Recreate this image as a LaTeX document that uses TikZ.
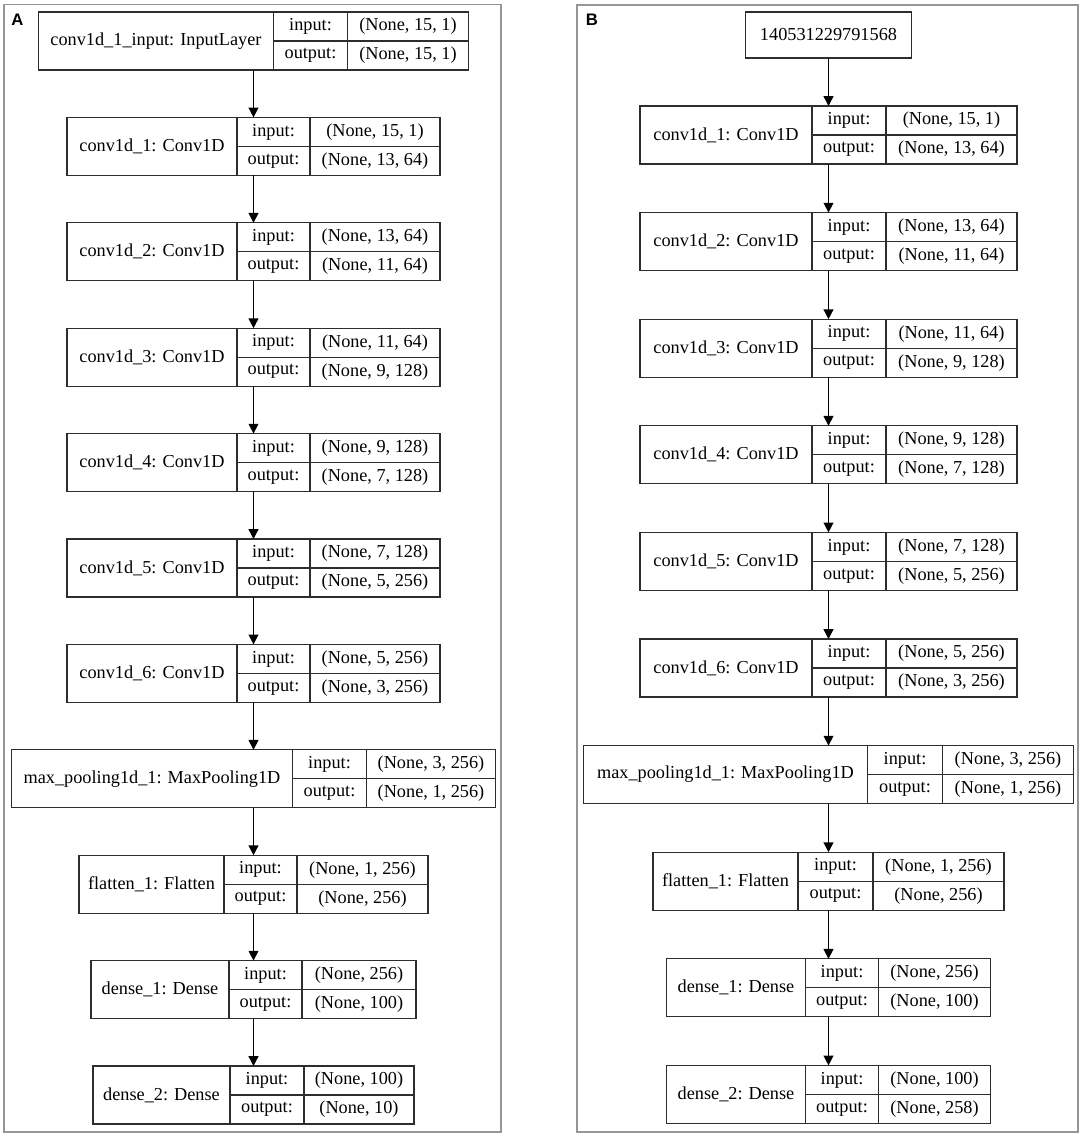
\documentclass[tikz,border=0pt]{standalone}
\usepackage{fontspec}
\setmainfont{Liberation Serif}
\newfontfamily\panelfont{Liberation Sans}
\usetikzlibrary{arrows.meta}

\definecolor{framegray}{RGB}{150,150,150}
\definecolor{celldark}{RGB}{45,45,45}

\tikzset{
    cell/.style={draw=celldark, line width=0.7pt, inner sep=0pt, outer sep=0pt, minimum height=0.58cm, font=\fontsize{10.4}{12}\selectfont},
    panel/.style={draw=framegray, line width=0.9pt},
    arr/.style={line width=0.8pt, -{Triangle[length=5.6pt, width=5.6pt]}},
}

% one keras layer: id, x, y, name width, label width, value width, name, input, output (widths in px)
\newcommand{\layer}[9]{
    \node[outer sep=0pt, inner sep=0pt, minimum width={(#4+#5+#6)*0.02cm}, minimum height=1.16cm] (#1) at (#2, #3) {};
    \node[cell, anchor=north west, minimum width={#4*0.02cm}, minimum height=1.16cm] (#1n) at (#1.north west) {#7};
    \node[cell, anchor=north west, minimum width={#5*0.02cm}] (#1il) at (#1n.north east) {input:};
    \node[cell, anchor=north west, minimum width={#5*0.02cm}] (#1ol) at (#1il.south west) {output:};
    \node[cell, anchor=north west, minimum width={#6*0.02cm}] (#1iv) at (#1il.north east) {#8};
    \node[cell, anchor=north west, minimum width={#6*0.02cm}] (#1ov) at (#1iv.south west) {#9};
}

\begin{document}
\begin{tikzpicture}[x=0.02cm, y=-0.02cm]
    \useasboundingbox (0, 0) rectangle (1084, 1137);

    % panels
    \draw[panel] (4, 4.7) rectangle (501, 1132);
    \draw[panel] (577, 5) rectangle (1078, 1132);
    \node[font=\panelfont\bfseries\fontsize{9.5}{11}\selectfont] (labA) at (17.5, 20) {A};
    \node[font=\panelfont\bfseries\fontsize{9.5}{11}\selectfont] (labB) at (592, 20) {B};

    % model A
    \layer{a0}{253.5}{41}{235}{74}{121}{conv1d\_1\_input: InputLayer}{(None, 15, 1)}{(None, 15, 1)}
    \layer{a1}{253.5}{146.4}{170}{73}{130}{conv1d\_1: Conv1D}{(None, 15, 1)}{(None, 13, 64)}
    \layer{a2}{253.5}{251.8}{170}{73}{130}{conv1d\_2: Conv1D}{(None, 13, 64)}{(None, 11, 64)}
    \layer{a3}{253.5}{357.2}{170}{73}{130}{conv1d\_3: Conv1D}{(None, 11, 64)}{(None, 9, 128)}
    \layer{a4}{253.5}{462.6}{170}{73}{130}{conv1d\_4: Conv1D}{(None, 9, 128)}{(None, 7, 128)}
    \layer{a5}{253.5}{568}{170}{73}{130}{conv1d\_5: Conv1D}{(None, 7, 128)}{(None, 5, 256)}
    \layer{a6}{253.5}{673.4}{170}{73}{130}{conv1d\_6: Conv1D}{(None, 5, 256)}{(None, 3, 256)}
    \layer{a7}{253.5}{778.8}{281}{74}{129}{max\_pooling1d\_1: MaxPooling1D}{(None, 3, 256)}{(None, 1, 256)}
    \layer{a8}{253.5}{884.2}{145}{73}{131}{flatten\_1: Flatten}{(None, 1, 256)}{(None, 256)}
    \layer{a9}{253.5}{989.6}{138}{73}{114}{dense\_1: Dense}{(None, 256)}{(None, 100)}
    \layer{a10}{253.5}{1095}{137}{74}{110}{dense\_2: Dense}{(None, 100)}{(None, 10)}

    % model B
    \node[cell, minimum width=3.32cm, minimum height=0.92cm] (b0) at (828.5, 35) {140531229791568};
    \layer{b1}{828.5}{135}{172}{74}{131}{conv1d\_1: Conv1D}{(None, 15, 1)}{(None, 13, 64)}
    \layer{b2}{828.5}{241.6}{172}{74}{131}{conv1d\_2: Conv1D}{(None, 13, 64)}{(None, 11, 64)}
    \layer{b3}{828.5}{348.2}{172}{74}{131}{conv1d\_3: Conv1D}{(None, 11, 64)}{(None, 9, 128)}
    \layer{b4}{828.5}{454.8}{172}{74}{131}{conv1d\_4: Conv1D}{(None, 9, 128)}{(None, 7, 128)}
    \layer{b5}{828.5}{561.4}{172}{74}{131}{conv1d\_5: Conv1D}{(None, 7, 128)}{(None, 5, 256)}
    \layer{b6}{828.5}{668}{172}{74}{131}{conv1d\_6: Conv1D}{(None, 5, 256)}{(None, 3, 256)}
    \layer{b7}{828.5}{774.6}{284}{75}{131}{max\_pooling1d\_1: MaxPooling1D}{(None, 3, 256)}{(None, 1, 256)}
    \layer{b8}{828.5}{881.2}{145}{75}{131}{flatten\_1: Flatten}{(None, 1, 256)}{(None, 256)}
    \layer{b9}{828.5}{987.8}{139}{73}{112}{dense\_1: Dense}{(None, 256)}{(None, 100)}
    \layer{b10}{828.5}{1094.4}{139}{73}{112}{dense\_2: Dense}{(None, 100)}{(None, 258)}

    % layer -> next layer
    \foreach \i [count=\j] in {0,...,9} {
        \draw[arr] (a\i) -- (a\j);
        \draw[arr] (b\i) -- (b\j);
    }
\end{tikzpicture}
\end{document}
